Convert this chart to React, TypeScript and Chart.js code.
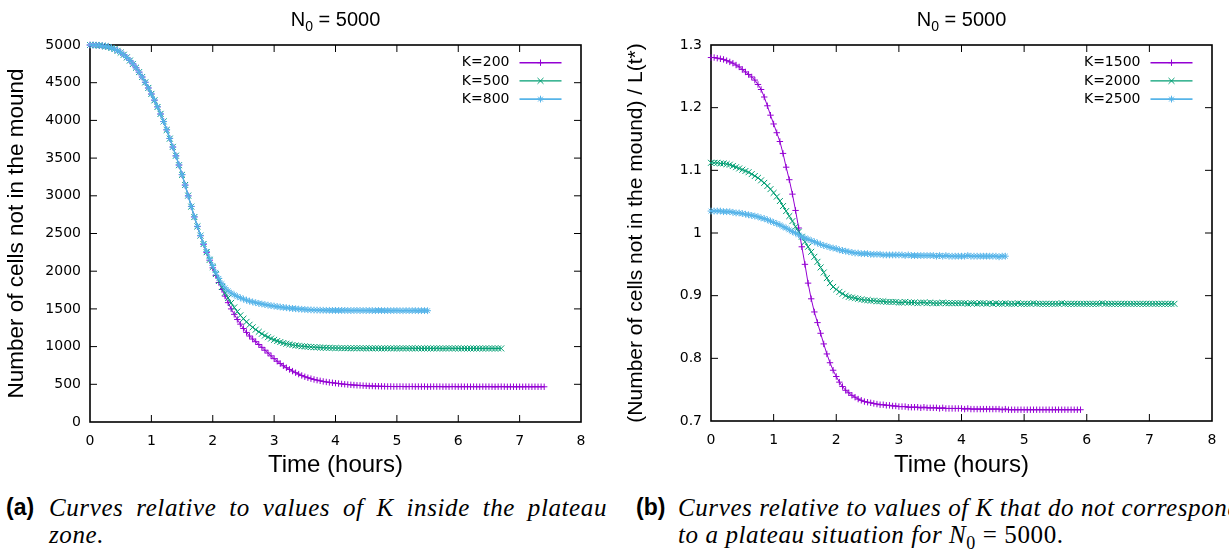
import React, { useEffect, useRef } from 'react';
import { Chart, registerables } from 'chart.js';

Chart.register(...registerables);

// ---------- data ----------
const LEFT_STEP = 0.05; // hours between samples (left panel)
const RIGHT_STEP = 0.05; // hours between samples (right panel)

const X_TICKS = [0, 1, 2, 3, 4, 5, 6, 7, 8];
const LEFT_Y_TICKS = [0, 500, 1000, 1500, 2000, 2500, 3000, 3500, 4000, 4500, 5000];
const RIGHT_Y_TICKS = [0.7, 0.8, 0.9, 1, 1.1, 1.2, 1.3];

const LEFT_LABELS = ['K=200', 'K=500', 'K=800'];
const RIGHT_LABELS = ['K=1500', 'K=2000', 'K=2500'];

const TITLE = 'N\u2080 = 5000';
const TITLE_PARTS = ['N', '0', ' = 5000'];
const X_TITLE = 'Time (hours)';
const LEFT_Y_TITLE = 'Number of cells not in the mound';
const RIGHT_Y_TITLE = '(Number of cells not in the mound) / L(t*)';

// t = 0 .. 7.4
const LEFT_K200 = [
  5000, 5000, 4998, 4995, 4990, 4983, 4975, 4962, 4945, 4924,
  4900, 4870, 4835, 4795, 4750, 4698, 4640, 4575, 4505, 4430,
  4350, 4268, 4180, 4085, 3985, 3875, 3760, 3647, 3530, 3408,
  3280, 3142, 3000, 2858, 2720, 2592, 2470, 2357, 2250, 2145,
  2045, 1945, 1850, 1758, 1670, 1583, 1500, 1428, 1360, 1298,
  1240, 1188, 1140, 1100, 1065, 1028, 990, 952, 915, 877,
  840, 806, 775, 746, 720, 697, 675, 654, 635, 617,
  600, 587, 575, 564, 555, 546, 538, 531, 525, 520,
  515, 510, 505, 501, 497, 493, 490, 487, 485, 482,
  480, 478, 477, 475, 474, 473, 472, 471, 471, 470,
  470, 471, 470, 469, 470, 471, 469, 470, 469, 470,
  468, 469, 470, 469, 470, 468, 469, 468, 470, 469,
  468, 469, 468, 469, 468, 469, 468, 468, 469, 468,
  469, 468, 467, 468, 469, 468, 467, 468, 468, 467,
  468, 467, 468, 468, 467, 468, 467, 468, 467,
];
// t = 0 .. 6.7
const LEFT_K500 = [
  5000, 4999, 4998, 4994, 4991, 4982, 4974, 4961, 4946, 4923,
  4899, 4871, 4836, 4794, 4749, 4699, 4641, 4576, 4504, 4431,
  4352, 4266, 4178, 4087, 3987, 3873, 3758, 3649, 3532, 3406,
  3278, 3144, 3003, 2856, 2718, 2594, 2472, 2360, 2252, 2150,
  2055, 1962, 1870, 1790, 1715, 1645, 1580, 1520, 1465, 1415,
  1370, 1328, 1290, 1256, 1225, 1196, 1170, 1146, 1125, 1106,
  1090, 1074, 1060, 1048, 1038, 1030, 1022, 1015, 1010, 1005,
  1002, 998, 995, 992, 990, 988, 986, 984, 983, 982,
  981, 980, 980, 979, 979, 978, 978, 979, 978, 977,
  977, 978, 977, 978, 977, 976, 977, 978, 977, 976,
  977, 976, 977, 977, 976, 977, 976, 977, 976, 976,
  977, 976, 976, 977, 976, 975, 976, 977, 976, 976,
  976, 975, 976, 975, 976, 976, 975, 976, 975, 976,
  975, 976, 975, 976, 976,
];
// t = 0 .. 5.5
const LEFT_K800 = [
  5000, 5000, 4998, 4996, 4989, 4984, 4976, 4961, 4944, 4925,
  4901, 4869, 4834, 4796, 4751, 4697, 4639, 4576, 4506, 4429,
  4349, 4269, 4181, 4084, 3984, 3877, 3762, 3646, 3529, 3410,
  3282, 3140, 2998, 2860, 2722, 2596, 2475, 2365, 2262, 2165,
  2075, 1985, 1905, 1835, 1780, 1740, 1710, 1686, 1665, 1647,
  1630, 1616, 1603, 1592, 1582, 1573, 1565, 1557, 1550, 1543,
  1537, 1531, 1525, 1520, 1515, 1510, 1506, 1502, 1498, 1495,
  1492, 1489, 1487, 1485, 1484, 1483, 1482, 1481, 1481, 1480,
  1480, 1479, 1480, 1480, 1479, 1478, 1479, 1480, 1478, 1479,
  1478, 1479, 1478, 1477, 1479, 1478, 1477, 1478, 1477, 1478,
  1478, 1477, 1476, 1478, 1477, 1477, 1478, 1476, 1477, 1477,
  1476,
];

// t = 0 .. 5.9
const RIGHT_K1500 = [
  1.280, 1.280, 1.279, 1.278, 1.277, 1.275, 1.273, 1.271, 1.268, 1.265,
  1.261, 1.257, 1.253, 1.249, 1.244, 1.237, 1.229, 1.217, 1.203, 1.188,
  1.174, 1.160, 1.146, 1.127, 1.105, 1.085, 1.062, 1.036, 1.008, 0.978,
  0.950, 0.920, 0.895, 0.874, 0.857, 0.840, 0.823, 0.807, 0.793, 0.781,
  0.771, 0.762, 0.755, 0.749, 0.745, 0.741, 0.738, 0.735, 0.733, 0.731,
  0.730, 0.729, 0.728, 0.727, 0.726, 0.726, 0.725, 0.725, 0.724, 0.724,
  0.723, 0.723, 0.723, 0.722, 0.722, 0.722, 0.722, 0.721, 0.722, 0.721,
  0.721, 0.721, 0.721, 0.720, 0.721, 0.720, 0.720, 0.720, 0.720, 0.720,
  0.720, 0.719, 0.720, 0.719, 0.719, 0.719, 0.719, 0.719, 0.719, 0.719,
  0.719, 0.719, 0.719, 0.718, 0.719, 0.718, 0.718, 0.718, 0.718, 0.718,
  0.718, 0.718, 0.718, 0.718, 0.718, 0.718, 0.718, 0.718, 0.718, 0.718,
  0.718, 0.718, 0.718, 0.718, 0.718, 0.718, 0.718, 0.718, 0.718,
];
// t = 0 .. 7.4
const RIGHT_K2000 = [
  1.112, 1.112, 1.112, 1.111, 1.111, 1.110, 1.109, 1.107, 1.105, 1.103,
  1.101, 1.099, 1.097, 1.094, 1.091, 1.088, 1.084, 1.080, 1.075, 1.070,
  1.064, 1.058, 1.051, 1.043, 1.035, 1.027, 1.019, 1.010, 1.002, 0.994,
  0.986, 0.978, 0.970, 0.962, 0.954, 0.945, 0.937, 0.928, 0.920, 0.914,
  0.910, 0.906, 0.903, 0.900, 0.898, 0.897, 0.896, 0.895, 0.894, 0.893,
  0.893, 0.892, 0.892, 0.891, 0.891, 0.891, 0.890, 0.890, 0.890, 0.890,
  0.889, 0.889, 0.890, 0.889, 0.889, 0.889, 0.888, 0.889, 0.889, 0.888,
  0.889, 0.888, 0.888, 0.888, 0.889, 0.888, 0.888, 0.888, 0.888, 0.888,
  0.888, 0.888, 0.887, 0.888, 0.888, 0.887, 0.888, 0.888, 0.887, 0.888,
  0.887, 0.888, 0.887, 0.887, 0.888, 0.887, 0.887, 0.887, 0.888, 0.887,
  0.887, 0.887, 0.887, 0.888, 0.887, 0.887, 0.887, 0.887, 0.887, 0.887,
  0.887, 0.887, 0.888, 0.887, 0.887, 0.887, 0.887, 0.887, 0.887, 0.887,
  0.887, 0.887, 0.887, 0.887, 0.887, 0.888, 0.887, 0.887, 0.887, 0.887,
  0.887, 0.887, 0.887, 0.887, 0.887, 0.887, 0.887, 0.887, 0.887, 0.887,
  0.887, 0.887, 0.887, 0.887, 0.887, 0.887, 0.887, 0.887, 0.887,
];
// t = 0 .. 4.7
const RIGHT_K2500 = [
  1.035, 1.035, 1.035, 1.035, 1.034, 1.034, 1.034, 1.033, 1.032, 1.032,
  1.031, 1.030, 1.029, 1.028, 1.027, 1.026, 1.024, 1.023, 1.021, 1.019,
  1.017, 1.015, 1.013, 1.010, 1.008, 1.005, 1.002, 1.000, 0.997, 0.994,
  0.992, 0.990, 0.988, 0.986, 0.984, 0.982, 0.980, 0.979, 0.977, 0.976,
  0.975, 0.973, 0.972, 0.971, 0.970, 0.969, 0.968, 0.968, 0.967, 0.967,
  0.967, 0.966, 0.966, 0.966, 0.966, 0.965, 0.965, 0.965, 0.965, 0.965,
  0.965, 0.965, 0.964, 0.965, 0.964, 0.964, 0.964, 0.964, 0.964, 0.964,
  0.964, 0.964, 0.963, 0.964, 0.963, 0.964, 0.963, 0.963, 0.963, 0.963,
  0.963, 0.963, 0.964, 0.963, 0.963, 0.963, 0.963, 0.963, 0.963, 0.963,
  0.963, 0.963, 0.962, 0.963, 0.963,
];

const CAPTION_A1 = 'Curves relative to values of K inside the plateau';
const CAPTION_A2 = 'zone.';
const CAPTION_B1 = 'Curves relative to values of K that do not correspond';
const CAPTION_B2 = 'to a plateau situation for ';

// ---------- styles ----------
const COLORS = ['#9400d3', '#009e73', '#56b4e9'];
const MARKERS = ['cross', 'crossRot', 'star'];
const MARKER_R = [3.2, 4.2, 3.4];
const LINE_W = [1, 1, 1.4];
const FONT_SANS = "'Liberation Sans', Arial, sans-serif";
const FONT_TICK = "'DejaVu Sans', sans-serif";

function drawMarker(ctx: CanvasRenderingContext2D, style: string, x: number, y: number, r: number) {
  ctx.beginPath();
  if (style === 'cross' || style === 'star') {
    ctx.moveTo(x - r, y);
    ctx.lineTo(x + r, y);
    ctx.moveTo(x, y - r);
    ctx.lineTo(x, y + r);
  }
  if (style === 'crossRot' || style === 'star') {
    const d = r * Math.SQRT1_2;
    ctx.moveTo(x - d, y - d);
    ctx.lineTo(x + d, y + d);
    ctx.moveTo(x - d, y + d);
    ctx.lineTo(x + d, y - d);
  }
  ctx.stroke();
}

const framePlugin = {
  id: 'gnuFrame',
  beforeDatasetsDraw(chart: any) {
    const { ctx, chartArea: a } = chart;
    const xs = chart.scales.x;
    const ys = chart.scales.y;
    const L = 7;
    ctx.save();
    ctx.strokeStyle = '#000';
    ctx.lineWidth = 1;
    ctx.beginPath();
    xs.ticks.forEach((t: any) => {
      const px = xs.getPixelForValue(t.value);
      if (px <= a.left + 1 || px >= a.right - 1) return;
      ctx.moveTo(px, a.bottom);
      ctx.lineTo(px, a.bottom - L);
      ctx.moveTo(px, a.top);
      ctx.lineTo(px, a.top + L);
    });
    ys.ticks.forEach((t: any) => {
      const py = ys.getPixelForValue(t.value);
      if (py <= a.top + 1 || py >= a.bottom - 1) return;
      ctx.moveTo(a.left, py);
      ctx.lineTo(a.left + L, py);
      ctx.moveTo(a.right, py);
      ctx.lineTo(a.right - L, py);
    });
    ctx.stroke();
    ctx.lineWidth = 1.6;
    ctx.strokeRect(a.left, a.top, a.right - a.left, a.bottom - a.top);
    ctx.restore();
  },
};

const legendPlugin = {
  id: 'gnuLegend',
  afterDatasetsDraw(chart: any) {
    const { ctx, chartArea: a } = chart;
    ctx.save();
    chart.data.datasets.forEach((ds: any, i: number) => {
      const y = a.top + 17.7 + i * 18.2;
      const x2 = a.right - 19.5;
      const x1 = x2 - 42;
      ctx.font = `14px ${FONT_TICK}`;
      ctx.fillStyle = '#000';
      ctx.textAlign = 'right';
      ctx.textBaseline = 'middle';
      ctx.fillText(ds.label, x1 - 10, y);
      ctx.strokeStyle = COLORS[i];
      ctx.lineWidth = LINE_W[i] + 0.4;
      ctx.beginPath();
      ctx.moveTo(x1, y);
      ctx.lineTo(x2, y);
      ctx.stroke();
      ctx.lineWidth = 1;
      drawMarker(ctx, MARKERS[i], (x1 + x2) / 2, y, MARKER_R[i]);
    });
    ctx.restore();
  },
};

// Draws the title with a real subscript (the Chart.js title keeps its space and text but is transparent)
const subTitlePlugin = {
  id: 'subTitle',
  afterDraw(chart: any) {
    const { ctx, chartArea: a } = chart;
    const cx = (a.left + a.right) / 2;
    const base = 26;
    ctx.save();
    ctx.fillStyle = '#000';
    ctx.textBaseline = 'alphabetic';
    ctx.textAlign = 'left';
    const big = `20px ${FONT_SANS}`;
    const small = `14px ${FONT_SANS}`;
    ctx.font = big;
    const w0 = ctx.measureText(TITLE_PARTS[0]).width;
    const w2 = ctx.measureText(TITLE_PARTS[2]).width;
    ctx.font = small;
    const w1 = ctx.measureText(TITLE_PARTS[1]).width;
    let x = cx - (w0 + w1 + w2) / 2;
    ctx.font = big;
    ctx.fillText(TITLE_PARTS[0], x, base);
    x += w0;
    ctx.font = small;
    ctx.fillText(TITLE_PARTS[1], x, base + 5);
    x += w1;
    ctx.font = big;
    ctx.fillText(TITLE_PARTS[2], x, base);
    ctx.restore();
  },
};

function buildConfig(p: {
  series: number[][];
  labels: string[];
  step: number;
  yTicks: number[];
  yTitle: string;
  yTitleSize: number;
  yTitlePad: number;
  yWidth: number;
  xHeight: number;
  padRight: number;
}): any {
  const yMin = p.yTicks[0];
  const yMax = p.yTicks[p.yTicks.length - 1];
  return {
    type: 'line',
    data: {
      datasets: p.series.map((vals, i) => ({
        label: p.labels[i],
        data: vals.map((v, j) => ({ x: Math.round(j * p.step * 1000) / 1000, y: v })),
        borderColor: COLORS[i],
        backgroundColor: COLORS[i],
        borderWidth: LINE_W[i],
        pointStyle: MARKERS[i],
        pointRadius: MARKER_R[i],
        pointHoverRadius: MARKER_R[i],
        pointBorderWidth: 1,
        pointBorderColor: COLORS[i],
        tension: 0,
        fill: false,
        clip: false,
        order: 3 - i,
      })),
    },
    options: {
      responsive: false,
      animation: false,
      events: [],
      layout: { padding: { left: 0, right: p.padRight, top: 0, bottom: 0 } },
      plugins: {
        legend: { display: false },
        tooltip: { enabled: false },
        title: {
          display: true,
          text: TITLE,
          fullSize: false,
          color: 'rgba(0,0,0,0)',
          font: { family: FONT_SANS, size: 20, weight: 'normal' },
          padding: { top: 7, bottom: 14 },
        },
      },
      scales: {
        x: {
          type: 'linear',
          min: 0,
          max: 8,
          grid: { display: false, drawTicks: false },
          border: { display: false },
          ticks: {
            color: '#000',
            font: { family: FONT_TICK, size: 14 },
            padding: 11,
            maxRotation: 0,
            autoSkip: false,
            callback: (v: number) => String(v),
          },
          afterBuildTicks: (s: any) => {
            s.ticks = X_TICKS.map((v) => ({ value: v }));
          },
          afterFit: (s: any) => {
            s.height = p.xHeight;
          },
          title: {
            display: true,
            text: X_TITLE,
            color: '#000',
            font: { family: FONT_SANS, size: 24 },
            padding: { top: 0, bottom: 0 },
          },
        },
        y: {
          type: 'linear',
          min: yMin,
          max: yMax,
          grid: { display: false, drawTicks: false },
          border: { display: false },
          ticks: {
            color: '#000',
            font: { family: FONT_TICK, size: 14 },
            padding: 9,
            autoSkip: false,
            callback: (v: number) => String(Math.round(v * 1000) / 1000),
          },
          afterBuildTicks: (s: any) => {
            s.ticks = p.yTicks.map((v) => ({ value: v }));
          },
          afterFit: (s: any) => {
            s.width = p.yWidth;
          },
          title: {
            display: true,
            text: p.yTitle,
            color: '#000',
            font: { family: FONT_SANS, size: p.yTitleSize },
            padding: { top: p.yTitlePad, bottom: 0 },
          },
        },
      },
    },
    plugins: [framePlugin, legendPlugin, subTitlePlugin],
  };
}

const capText: React.CSSProperties = {
  position: 'absolute',
  fontFamily: "'Liberation Serif', 'Times New Roman', serif",
  fontStyle: 'italic',
  fontSize: 25,
  lineHeight: '27px',
  letterSpacing: '0.6px',
  color: '#000',
};
const capLabel: React.CSSProperties = {
  position: 'absolute',
  fontFamily: "'Liberation Sans', Arial, sans-serif",
  fontWeight: 'bold',
  fontSize: 23,
  lineHeight: '27px',
  color: '#000',
};

const CAP_TOP1 = 494;
const CAP_TOP2 = 521;

export default function App() {
  const leftRef = useRef<HTMLCanvasElement>(null);
  const rightRef = useRef<HTMLCanvasElement>(null);

  useEffect(() => {
    const c1 = new Chart(
      leftRef.current as HTMLCanvasElement,
      buildConfig({
        series: [LEFT_K200, LEFT_K500, LEFT_K800],
        labels: LEFT_LABELS,
        step: LEFT_STEP,
        yTicks: LEFT_Y_TICKS,
        yTitle: LEFT_Y_TITLE,
        yTitleSize: 22.5,
        yTitlePad: 3.5,
        yWidth: 90,
        xHeight: 58,
        padRight: 19,
      })
    );
    const c2 = new Chart(
      rightRef.current as HTMLCanvasElement,
      buildConfig({
        series: [RIGHT_K1500, RIGHT_K2000, RIGHT_K2500],
        labels: RIGHT_LABELS,
        step: RIGHT_STEP,
        yTicks: RIGHT_Y_TICKS,
        yTitle: RIGHT_Y_TITLE,
        yTitleSize: 21,
        yTitlePad: 9,
        yWidth: 96,
        xHeight: 59,
        padRight: 17,
      })
    );
    return () => {
      c1.destroy();
      c2.destroy();
    };
  }, []);

  return (
    <div
      style={{
        position: 'absolute',
        left: 0,
        top: 0,
        width: 1229,
        height: 549,
        overflow: 'hidden',
        background: '#fff',
      }}
    >
      <canvas ref={leftRef} width={600} height={480} style={{ position: 'absolute', left: 0, top: 0 }} />
      <canvas ref={rightRef} width={614} height={480} style={{ position: 'absolute', left: 615, top: 0 }} />

      <div style={{ ...capLabel, left: 6, top: CAP_TOP1 }}>(a)</div>
      <div
        style={{
          ...capText,
          left: 49,
          top: CAP_TOP1,
          width: 558,
          textAlign: 'justify',
          textAlignLast: 'justify' as any,
        }}
      >
        {CAPTION_A1}
      </div>
      <div style={{ ...capText, left: 49, top: CAP_TOP2 }}>{CAPTION_A2}</div>

      <div style={{ ...capLabel, left: 636, top: CAP_TOP1 }}>(b)</div>
      <div style={{ ...capText, left: 678, top: CAP_TOP1, whiteSpace: 'nowrap' }}>{CAPTION_B1}</div>
      <div style={{ ...capText, left: 678, top: CAP_TOP2, whiteSpace: 'nowrap' }}>
        {CAPTION_B2}
        N<sub style={{ fontStyle: 'normal', fontSize: 18, lineHeight: 0 }}>0</sub>
        <span style={{ fontStyle: 'normal' }}> = 5000.</span>
      </div>
    </div>
  );
}
